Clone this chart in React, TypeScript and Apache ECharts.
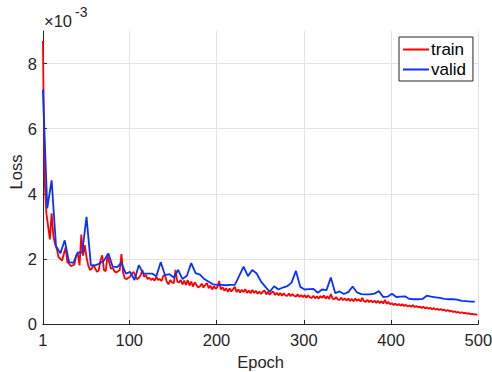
import React, { useEffect, useRef } from "react";
import * as echarts from "echarts";

// Loss values are in units of 1e-3 (axis shows "×10^-3")
const xTicks = [1, 100, 200, 300, 400, 500];
const yTicks = [0, 2, 4, 6, 8];

// train loss, one value every 2 epochs starting at epoch 1
const TRAIN_START = 1;
const TRAIN_STEP = 2;
const trainLoss = [
  8.7, 4.4, 3.4, 3.0, 2.6, 3.4, 2.7, 2.45, 2.3, 2.05,
  2.0, 1.95, 2.15, 2.35, 1.9, 1.85, 1.78, 1.8, 1.82, 2.1,
  2.17, 1.8, 2.75, 2.1, 2.42, 2.05, 1.8, 1.66, 1.7, 1.82,
  1.7, 1.6, 1.65, 1.96, 2.11, 1.66, 1.62, 2.1, 1.9, 1.7,
  1.72, 1.62, 1.58, 1.62, 1.65, 2.15, 1.56, 1.4, 1.38, 1.42,
  1.45, 1.55, 1.6, 1.48, 1.37, 1.42, 1.5, 1.66, 1.45, 1.5,
  1.38, 1.42, 1.35, 1.4, 1.33, 1.45, 1.35, 1.38, 1.32, 1.48,
  1.5, 1.3, 1.22, 1.35, 1.28, 1.25, 1.66, 1.3, 1.28, 1.35,
  1.22, 1.33, 1.2, 1.35, 1.18, 1.3, 1.15, 1.28, 1.2, 1.12,
  1.16, 1.24, 1.12, 1.2, 1.26, 1.1, 1.18, 1.06, 1.16, 1.08,
  1.14, 1.32, 1.06, 1.13, 1.02, 1.1, 0.99, 1.09, 1.0, 1.07,
  1.14, 0.98, 1.06, 0.97, 1.05, 0.98, 1.07, 0.95, 1.03, 0.94,
  1.05, 0.95, 1.02, 0.93, 1.0, 0.92, 0.99, 1.03, 0.91, 0.99,
  0.9, 0.97, 1.0, 0.89, 0.96, 0.88, 0.95, 0.87, 0.94, 0.88,
  0.86, 0.94, 0.85, 0.92, 0.86, 0.84, 0.91, 0.83, 0.89, 0.82,
  0.89, 0.81, 0.88, 0.82, 0.8, 0.87, 0.79, 0.85, 0.78, 0.86,
  0.8, 0.88, 0.78, 0.85, 0.77, 0.92, 0.78, 0.76, 0.83, 0.75,
  0.74, 0.81, 0.73, 0.79, 0.72, 0.78, 0.71, 0.77, 0.7, 0.78,
  0.71, 0.76, 0.69, 0.8, 0.7, 0.68, 0.74, 0.67, 0.73, 0.66,
  0.72, 0.65, 0.71, 0.64, 0.7, 0.63, 0.74, 0.62, 0.68, 0.61,
  0.64, 0.58, 0.63, 0.57, 0.62, 0.56, 0.61, 0.55, 0.59, 0.54,
  0.57, 0.53, 0.58, 0.52, 0.55, 0.51, 0.54, 0.49, 0.53, 0.48,
  0.51, 0.47, 0.5, 0.45, 0.49, 0.44, 0.47, 0.43, 0.46, 0.42,
  0.44, 0.4, 0.43, 0.39, 0.41, 0.37, 0.39, 0.35, 0.37, 0.34,
  0.36, 0.33, 0.34, 0.32, 0.33, 0.3, 0.31, 0.29, 0.3, 0.28,
];

// validation loss, one value every 5 epochs starting at epoch 1
const VALID_START = 1;
const VALID_STEP = 5;
const validLoss = [
  7.2, 3.55, 4.41, 2.4, 2.17, 2.57, 1.9, 1.88, 2.2, 2.19,
  3.29, 1.8, 1.8, 1.86, 1.95, 2.17, 1.76, 1.75, 1.88, 1.55,
  1.6, 1.35, 1.81, 1.55, 1.55, 1.55, 1.47, 1.9, 1.5, 1.53,
  1.43, 1.66, 1.38, 1.48, 1.87, 1.56, 1.52, 1.38, 1.3, 1.22,
  1.2, 1.2, 1.19, 1.2, 1.2, 1.48, 1.76, 1.47, 1.66, 1.55,
  1.3, 1.14, 0.99, 1.16, 1.06, 1.12, 1.16, 1.27, 1.63, 1.14,
  1.06, 1.07, 1.08, 0.96, 1.06, 1.04, 1.43, 0.95, 1.0, 0.92,
  0.98, 1.15, 0.97, 0.92, 0.91, 0.91, 0.93, 1.01, 0.83, 0.84,
  0.93, 0.83, 0.84, 0.85, 0.77, 0.76, 0.76, 0.77, 0.87, 0.84,
  0.82, 0.8, 0.77, 0.76, 0.76, 0.75, 0.71, 0.7, 0.69, 0.69,
];

const seriesNames = ["train", "valid"];
const seriesColors = ["#ff0000", "#0a32ff"];

const FONT = "'Liberation Sans', Arial, Helvetica, sans-serif";
const TXT = "#262626";
const FS = 16.5;

export default function App() {
  const ref = useRef<HTMLDivElement>(null);

  useEffect(() => {
    if (!ref.current) return;
    const chart = echarts.init(ref.current, undefined, { renderer: "svg" });
    const trainData = trainLoss.map((v, i) => [TRAIN_START + i * TRAIN_STEP, v]);
    const validData = validLoss.map((v, i) => [VALID_START + i * VALID_STEP, v]);

    chart.setOption({
      animation: false,
      backgroundColor: "#ffffff",
      textStyle: { fontFamily: FONT },
      grid: {
        left: 42.9,
        right: 13.7,
        top: 31,
        bottom: 48,
        containLabel: false,
        outerBoundsMode: "none",
      },
      legend: {
        orient: "vertical",
        left: 399,
        top: 37,
        data: seriesNames,
        icon: "rect",
        backgroundColor: "#ffffff",
        borderColor: TXT,
        borderWidth: 1,
        borderRadius: 0,
        padding: [4, 7, 3, 4],
        itemWidth: 26,
        itemHeight: 2,
        itemGap: 3,
        textStyle: { fontSize: 17, color: "#000", fontFamily: FONT, padding: [0, 0, 0, -3] },
      },
      xAxis: {
        type: "value",
        min: 1,
        max: 500,
        name: "Epoch",
        nameLocation: "middle",
        nameGap: 29,
        nameTextStyle: { fontSize: FS, color: TXT, fontFamily: FONT },
        axisLine: { show: true, onZero: false, lineStyle: { color: TXT, width: 1 } },
        axisTick: { show: true, inside: true, length: 4, customValues: xTicks, lineStyle: { color: TXT } },
        axisLabel: { customValues: xTicks, fontSize: FS, color: TXT, margin: 7, fontFamily: FONT },
        splitLine: { show: true, lineStyle: { color: "#e3e3e3", width: 1 } },
      },
      yAxis: {
        type: "value",
        min: 0,
        max: 9,
        axisLine: { show: true, onZero: false, lineStyle: { color: TXT, width: 1 } },
        axisTick: { show: true, inside: true, length: 4, customValues: yTicks, lineStyle: { color: TXT } },
        axisLabel: { customValues: yTicks, fontSize: FS, color: TXT, margin: 6, fontFamily: FONT },
        splitLine: { show: true, lineStyle: { color: "#e3e3e3", width: 1 } },
      },
      graphic: [
        {
          type: "text",
          x: 15.5,
          y: 172,
          rotation: Math.PI / 2,
          style: {
            text: "Loss",
            fontSize: FS,
            fontFamily: FONT,
            fill: TXT,
            align: "center",
            verticalAlign: "middle",
          },
        },
        {
          type: "text",
          left: 44,
          top: 12,
          style: { text: "×10", fontSize: FS, fontFamily: FONT, fill: TXT },
        },
        {
          type: "text",
          left: 75,
          top: 5,
          style: { text: "-3", fontSize: 14, fontFamily: FONT, fill: TXT },
        },
      ],
      series: [
        {
          name: seriesNames[0],
          type: "line",
          data: trainData,
          showSymbol: false,
          symbol: "none",
          lineStyle: { color: seriesColors[0], width: 1.8 },
          itemStyle: { color: seriesColors[0] },
        },
        {
          name: seriesNames[1],
          type: "line",
          data: validData,
          showSymbol: false,
          symbol: "none",
          lineStyle: { color: seriesColors[1], width: 1.8 },
          itemStyle: { color: seriesColors[1] },
        },
      ],
    });
    return () => chart.dispose();
  }, []);

  return (
    <div
      ref={ref}
      style={{ position: "fixed", left: 0, top: 0, width: 492, height: 372, background: "#fff" }}
    />
  );
}
